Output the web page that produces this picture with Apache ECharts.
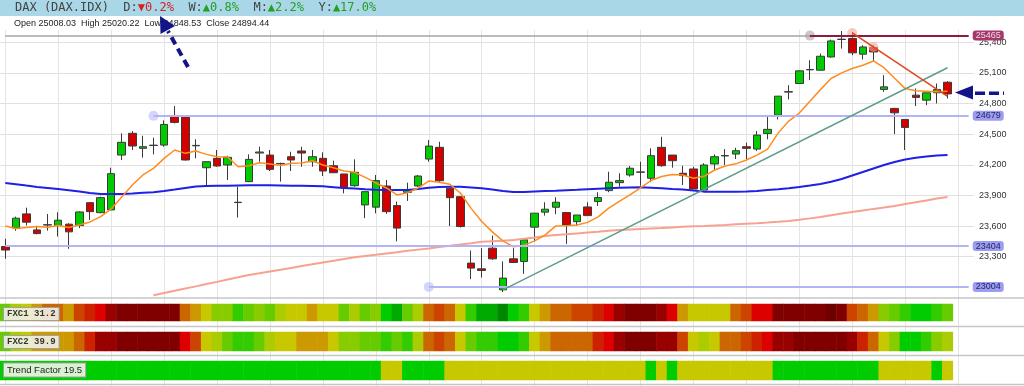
<!DOCTYPE html>
<html><head><meta charset="utf-8">
<script src="https://cdn.jsdelivr.net/npm/echarts@6/dist/echarts.min.js"></script>
<style>html,body{margin:0;padding:0;background:#fff}#c{width:1024px;height:386px}</style>
</head><body><div id="c"></div>
<script>
// ---- categories (trading sessions; last two are empty right padding) ----
const sessions = Array.from({length: 92}, (_, i) => 'S' + (i + 1));

// ---- OHLC ----
const opens = [23400,23580,23719,23562,23610,23605,23618,23605,23829,23731,
23758,24295,24508,24361,24392,24393,24674,24667,24390,24171,
24263,24198,23833,24035,24315,24295,24213,24279,24335,24230,
24263,24191,24110,23995,23807,23785,23992,23800,23930,23992,
24256,24371,23970,23888,23237,23181,23383,22975,23279,23253,
23589,23736,23784,23732,23643,23787,23840,23947,24025,24100,
24130,24068,24371,24295,24117,24159,23953,24208,24290,24305,
24377,24354,24507,24686,24916,24996,25133,25126,25256,25430,
25436,25283,25348,24938,24752,24644,24882,24833,24905,25008];
const closes = [23365,23677,23638,23526,23613,23657,23543,23738,23741,23878,
24113,24420,24384,24377,24389,24595,24615,24247,24386,24230,
24188,24273,23830,24253,24325,24155,24210,24247,24315,24279,
24139,24122,23976,24126,23937,24045,23741,23580,23953,24090,
24383,24044,23878,23595,23188,23165,23279,23090,23243,23465,
23726,23765,23833,23611,23708,23702,23879,24029,24045,24166,
24127,24289,24191,24240,24094,23963,24198,24279,24287,24338,
24361,24491,24547,24872,24912,25120,25130,25263,25413,25427,
25296,25354,25305,24963,24709,24566,24860,24905,24938,24894];
const lows = [23280,23553,23605,23520,23555,23497,23377,23580,23660,23726,
23755,24247,24345,24270,24302,24377,24605,24240,24263,23993,
24181,24051,23683,24030,24230,24139,24035,24139,24181,24181,
24090,24120,23920,23985,23677,23725,23719,23450,23846,23985,
24230,24030,23600,23585,23080,23096,23269,22953,23237,23132,
23448,23702,23716,23425,23605,23702,23797,23931,23985,24084,
23995,24030,24181,24172,24002,23963,23931,24149,24198,24257,
24253,24335,24449,24644,24840,24996,25029,25126,25250,25338,
25273,25231,25208,24914,24501,24344,24775,24784,24801,24849];
const highs = [23475,23692,23780,23589,23718,23735,23628,23745,23835,23888,
24171,24508,24530,24484,24465,24635,24775,24680,24450,24235,
24345,24289,23985,24302,24377,24345,24220,24328,24377,24345,
24322,24240,24110,24253,23937,24100,24051,23840,24025,24100,
24442,24425,23970,23888,23360,23383,23506,23253,23383,23481,
23726,23833,23882,23732,23708,23833,23931,24132,24117,24188,
24230,24361,24474,24295,24191,24181,24215,24302,24354,24367,
24416,24530,24677,24872,24980,25125,25224,25290,25426,25510,
25500,25371,25371,25078,24758,24644,24947,24905,24996,25020];

// ---- moving averages ----
const maShort = [23601,23575,23585,23595,23589,23605,23585,23611,23640,23692,
23768,23885,24002,24100,24165,24263,24345,24312,24335,24302,
24279,24276,24181,24191,24220,24208,24193,24214,24217,24240,
24198,24171,24139,24126,24076,24022,23973,23904,23927,23973,
24041,24029,24009,23921,23773,23645,23543,23455,23396,23411,
23455,23513,23601,23604,23611,23636,23689,23775,23841,23905,
23973,24046,24085,24105,24100,24068,24087,24149,24188,24209,
24247,24295,24353,24510,24628,24706,24823,24936,25045,25100,
25143,25175,25217,25151,25048,24946,24924,24921,24916,24921];
const maMid = [24022,24010,23996,23983,23973,23963,23951,23939,23924,23914,
23914,23914,23919,23926,23932,23944,23957,23973,23988,23993,
23995,23995,23997,23999,24000,23999,23997,23995,23995,23993,
23989,23981,23973,23967,23961,23956,23953,23953,23953,23963,
23975,23983,23986,23985,23978,23970,23958,23944,23934,23934,
23938,23942,23946,23951,23955,23961,23966,23970,23974,23978,
23980,23976,23971,23963,23957,23947,23937,23937,23937,23937,
23938,23944,23953,23961,23971,23983,23997,24012,24034,24061,
24095,24129,24164,24198,24227,24252,24268,24281,24290,24296];
const maLong = [null,null,null,null,null,null,null,null,null,null,null,null,null,null,
22922,22944,22966,22988,23009,23032,23053,23076,23098,23120,
23137,23155,23172,23190,23208,23225,23243,23259,23277,23294,
23306,23318,23331,23343,23357,23369,23381,23394,23406,23419,
23431,23445,23451,23455,23463,23475,23488,23502,23513,23520,
23528,23536,23544,23553,23560,23565,23570,23575,23580,23586,
23592,23597,23601,23606,23611,23617,23623,23628,23634,23641,
23650,23662,23675,23689,23706,23723,23738,23753,23768,23781,
23797,23815,23832,23851,23869,23885];

// ---- drawn levels and trend lines ----
const levelValues = [25465, 24679, 23404, 23004];
const levelStartIdx = [76, 14, 0, 40];
const upTrend = [[47, 22975], [89, 25150]];
const downTrend = [[80, 25491], [89, 24870]];
const downTrendMid = [82, 25354];

// ---- y tick labels ----
const yTicks = [23300, 23600, 23900, 24200, 24500, 24800, 25100, 25400];

// ---- indicator strips (colour level per session, 0 = most bearish) ----
const fxc1 = [11,9,8,7,6,6,7,5,4,3,2,1,1,1,1,1,1,6,7,8,10,10,12,11,10,11,9,8,8,7,
8,8,11,9,11,10,13,14,11,9,6,5,6,8,12,14,14,15,13,12,8,7,6,6,5,5,4,3,2,1,
1,1,2,3,7,8,8,8,8,6,5,3,3,1,1,1,1,1,0,1,5,6,7,10,11,12,13,13,12,11];
const fxc2 = [11,9,8,7,7,7,7,6,4,2,2,1,1,1,1,1,1,3,5,8,9,11,12,12,11,9,8,8,7,7,
7,8,10,10,11,11,12,11,12,9,6,5,6,8,11,12,12,13,13,12,8,7,6,6,6,6,4,3,2,1,
1,1,2,2,5,8,9,8,6,6,5,4,3,2,2,1,1,1,1,1,2,4,6,8,10,13,13,12,10,9];
const trendFactor = [13,13,13,13,13,13,13,13,13,13,13,13,13,13,13,13,13,13,13,13,
13,13,13,13,13,13,13,13,13,13,13,13,13,13,13,13,8,8,13,13,13,13,8,8,8,8,8,8,8,8,
8,8,8,8,8,8,8,8,8,8,8,13,8,13,8,8,8,8,8,8,8,8,8,13,13,13,13,13,13,13,
13,13,13,8,8,8,8,8,13,8];
const stripLabels = ['FXC1 31.2', 'FXC2 39.9', 'Trend Factor 19.5'];
const headerParts = ['DAX (DAX.IDX)', '\u25BC0.2%', '\u25B20.8%', '\u25B22.2%', '\u25B217.0%'];
const lastBar = ['25008.03', '25020.22', '24848.53', '24894.44'];

// ---- styling ----
const palette = ['#6e0000','#800000','#990000','#dd0000','#cc2200','#cc4400','#cc6600','#cc9900',
  '#c8c800','#aacc00','#88cc00','#66cc00','#33cc00','#00cc00','#00aa00','#008800'];
const lav = '#b4b4f4';

const candleData = opens.map((o, i) => [o, closes[i], lows[i], highs[i]]);

const levelLineItems = [];
levelLineItems.push([{coord: [0, levelValues[0]], lineStyle: {type: 'solid', color: '#aaa0a8', width: 1.5}, label: {show: false}},
                     {coord: [levelStartIdx[0], levelValues[0]]}]);
levelValues.forEach((v, k) => {
  const isTop = k === 0;
  levelLineItems.push([
    {coord: [levelStartIdx[k], v],
     lineStyle: {type: 'solid', color: isTop ? '#8a1d3e' : lav, width: 2},
     label: {show: true, position: 'end', distance: 4, formatter: String(v),
       backgroundColor: isTop ? '#a3386a' : '#9c9cf2', color: isTop ? '#f4d8e6' : '#262660',
       borderRadius: 3, padding: [1, 3, 0, 3], fontSize: 9, fontFamily: 'Liberation Sans'}},
    {coord: [91, v]}
  ]);
});

const heat = (arr) => arr.map((v, i) => [i, 0, v]);
const hiddenCat = (g) => ({type: 'category', gridIndex: g, data: sessions, boundaryGap: true,
  axisLine: {show: false}, axisTick: {show: false}, axisLabel: {show: false}, splitLine: {show: false}});
const vGrid = {show: true, interval: (i) => i % 5 === 0, alignWithLabel: true, lineStyle: {color: '#e4e4e4', width: 1}};

const option = {
  animation: false,
  backgroundColor: '#ffffff',
  grid: [
    {left: 0, right: 50, top: 30, height: 267},
    {left: 0, right: 50, top: 304, height: 17},
    {left: 0, right: 50, top: 332, height: 19},
    {left: 0, right: 50, top: 361, height: 19},
    {left: 0, right: 50, top: 297, height: 89}
  ],
  xAxis: [
    Object.assign(hiddenCat(0), {splitLine: vGrid}),
    hiddenCat(1), hiddenCat(2), hiddenCat(3),
    Object.assign(hiddenCat(4), {splitLine: vGrid})
  ],
  yAxis: [
    {type: 'value', gridIndex: 0, position: 'right', min: 22905, max: 25520,
     axisLine: {show: false}, axisTick: {show: false, customValues: yTicks},
     axisLabel: {customValues: yTicks, color: '#333', fontSize: 9, margin: 5, fontFamily: 'Liberation Sans'},
     splitLine: {show: true, lineStyle: {color: '#e0e0e0', width: 1}}},
    {type: 'category', gridIndex: 1, data: ['v'], show: false},
    {type: 'category', gridIndex: 2, data: ['v'], show: false},
    {type: 'category', gridIndex: 3, data: ['v'], show: false},
    {type: 'value', gridIndex: 4, show: false, splitLine: {show: false}}
  ],
  visualMap: {type: 'piecewise', show: false, dimension: 2, seriesIndex: [5, 6, 7],
    pieces: palette.map((c, k) => ({value: k, color: c}))},
  series: [
    {type: 'line', name: 'MA long', data: maLong, symbol: 'none', lineStyle: {color: '#f7a291', width: 2},
     markLine: {silent: true, symbol: ['none', 'none'], animation: false, data: levelLineItems}},
    {type: 'line', name: 'MA mid', data: maMid, symbol: 'none', lineStyle: {color: '#1f1fe6', width: 2}},
    {type: 'candlestick', name: 'DAX', data: candleData, barWidth: 8,
     itemStyle: {color: '#00cc00', color0: '#d40000', borderColor: '#3a3a3a', borderColor0: '#3a3a3a', borderWidth: 1}},
    {type: 'line', name: 'MA short', data: maShort, symbol: 'none', lineStyle: {color: '#ff8c1e', width: 1.5},
     markLine: {silent: true, symbol: ['none', 'none'], animation: false, label: {show: false},
       data: [
         [{coord: upTrend[0], lineStyle: {type: 'solid', color: '#5e9e8a', width: 1.5}}, {coord: upTrend[1]}],
         [{coord: downTrend[0], lineStyle: {type: 'solid', color: '#e2441c', width: 1.5}}, {coord: downTrend[1]}]
       ]}},
    {type: 'scatter', name: 'anchors', symbolSize: 10, silent: true,
     data: [
       {value: [levelStartIdx[0], levelValues[0]], itemStyle: {color: 'rgba(170,160,170,0.75)'}},
       {value: [levelStartIdx[1], levelValues[1]], itemStyle: {color: 'rgba(190,190,250,0.8)'}},
       {value: [levelStartIdx[3], levelValues[3]], itemStyle: {color: 'rgba(190,190,250,0.8)'}},
       {value: downTrend[0], itemStyle: {color: 'rgba(244,170,150,0.75)'}},
       {value: downTrendMid, itemStyle: {color: 'rgba(244,170,150,0.75)'}}
     ]},
    {type: 'heatmap', xAxisIndex: 1, yAxisIndex: 1, data: heat(fxc1), emphasis: {disabled: true}},
    {type: 'heatmap', xAxisIndex: 2, yAxisIndex: 2, data: heat(fxc2), emphasis: {disabled: true}},
    {type: 'heatmap', xAxisIndex: 3, yAxisIndex: 3, data: heat(trendFactor), emphasis: {disabled: true}}
  ],
  graphic: [
    {type: 'rect', shape: {x: 0, y: 0, width: 1024, height: 16}, style: {fill: '#a9d7e7'}, z: 1},
    {type: 'text', x: 15, y: 8, z: 2, style: {
      text: '{t|' + headerParts[0] + '  D:}{r|' + headerParts[1] + '}{t|  W:}{g|' + headerParts[2] +
            '}{t|  M:}{g|' + headerParts[3] + '}{t|  Y:}{g|' + headerParts[4] + '}',
      verticalAlign: 'middle',
      rich: {
        t: {font: '12px "DejaVu Sans Mono"', fill: '#444'},
        r: {font: '12px "DejaVu Sans Mono"', fill: '#d42020'},
        g: {font: '12px "DejaVu Sans Mono"', fill: '#23a023'}
      }}},
    {type: 'text', x: 14, y: 24, z: 2, style: {
      text: 'Open ' + lastBar[0] + '  High ' + lastBar[1] + '  Low ' + lastBar[2] + '  Close ' + lastBar[3],
      font: '9px "Liberation Sans"', fill: '#222', verticalAlign: 'middle'}},
    {type: 'line', shape: {x1: 0, y1: 298, x2: 1024, y2: 298}, style: {stroke: '#c6c6c6', lineWidth: 1.5}, z: 5},
    {type: 'line', shape: {x1: 0, y1: 326.5, x2: 1024, y2: 326.5}, style: {stroke: '#c6c6c6', lineWidth: 1.5}, z: 5},
    {type: 'line', shape: {x1: 0, y1: 355.5, x2: 1024, y2: 355.5}, style: {stroke: '#c6c6c6', lineWidth: 1.5}, z: 5},
    {type: 'line', shape: {x1: 0, y1: 384.5, x2: 1024, y2: 384.5}, style: {stroke: '#c6c6c6', lineWidth: 1.5}, z: 5},
    {type: 'text', x: 4, y: 314, z: 10, style: {text: stripLabels[0], font: 'bold 9px "Liberation Mono"', fill: '#333',
      verticalAlign: 'middle', backgroundColor: 'rgba(240,240,230,0.9)', borderColor: '#a0a0a0', borderWidth: 1, padding: [2, 3, 1, 3]}},
    {type: 'text', x: 4, y: 342, z: 10, style: {text: stripLabels[1], font: 'bold 9px "Liberation Mono"', fill: '#333',
      verticalAlign: 'middle', backgroundColor: 'rgba(240,240,230,0.9)', borderColor: '#a0a0a0', borderWidth: 1, padding: [2, 3, 1, 3]}},
    {type: 'text', x: 4, y: 370, z: 10, style: {text: stripLabels[2], font: '9.5px "Liberation Sans"', fill: '#222',
      verticalAlign: 'middle', backgroundColor: 'rgba(240,245,230,0.9)', borderColor: '#a0a0a0', borderWidth: 1, padding: [2, 3, 1, 3]}},
    {type: 'line', z: 20, shape: {x1: 188, y1: 67, x2: 168, y2: 31}, style: {stroke: '#14148a', lineWidth: 4, lineDash: [8, 5]}},
    {type: 'polygon', z: 20, shape: {points: [[160, 16], [175, 26], [160.5, 34]]}, style: {fill: '#14148a'}},
    {type: 'polygon', z: 20, shape: {points: [[955, 92.5], [973, 85.5], [973, 99.5]]}, style: {fill: '#14148a'}},
    {type: 'line', z: 20, shape: {x1: 975, y1: 93.3, x2: 1004, y2: 93.3}, style: {stroke: '#14148a', lineWidth: 3.5, lineDash: [10, 4]}}
  ]
};
const chart = echarts.init(document.getElementById('c'), null, {renderer: 'canvas'});
chart.setOption(option);
</script>
</body></html>
